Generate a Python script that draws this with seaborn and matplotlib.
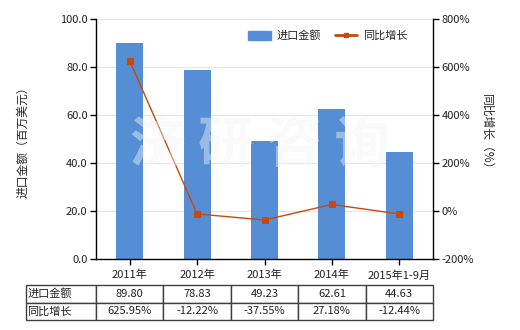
import matplotlib
matplotlib.use("Agg")
import matplotlib.pyplot as plt
import seaborn as sns
import numpy as np
import pandas as pd
from matplotlib.patches import Patch
from matplotlib.lines import Line2D

categories = ["2011年", "2012年", "2013年", "2014年", "2015年1-9月"]
import_values = [89.80, 78.83, 49.23, 62.61, 44.63]
yoy_growth = [625.95, -12.22, -37.55, 27.18, -12.44]
left_ticks = [0, 20, 40, 60, 80, 100]
right_ticks = [-200, 0, 200, 400, 600, 800]
row_labels = ["进口金额", "同比增长"]

sns.set_theme(style="white")
plt.rcParams['font.family'] = ['Noto Sans CJK SC', 'DejaVu Sans']
plt.rcParams['axes.unicode_minus'] = False

bar_color = "#558ed5"
line_color = "#c9490c"
fs = 8

fig = plt.figure(figsize=(5.2, 3.3), dpi=100)
ax = fig.add_axes([96/520, 1-259/330, 337/520, 240/330])

df = pd.DataFrame({"cat": categories, "val": import_values})
sns.barplot(data=df, x="cat", y="val", color=bar_color, width=0.4, ax=ax,
            saturation=1, linewidth=0, zorder=2)
ax.set_xlim(-0.5, len(categories)-0.5)
ax.set_ylim(0, 100)
ax.set_yticks(left_ticks)
ax.set_yticklabels([f"{v:.1f}" for v in left_ticks], fontsize=fs)
ax.set_xticks(range(len(categories)))
ax.set_xticklabels(categories, fontsize=fs)
ax.set_xlabel("")
ax.set_ylabel("进口金额（百万美元）", fontsize=fs+0.5)
ax.yaxis.set_label_coords(-(96-29)/337, 0.5)
ax.grid(axis="y", color="#e8e6dc", linewidth=0.8, zorder=0)
ax.set_axisbelow(True)
for s in ["top", "right"]:
    ax.spines[s].set_visible(False)
for s in ["left", "bottom"]:
    ax.spines[s].set_color("black")
    ax.spines[s].set_linewidth(1)
ax.tick_params(axis="both", direction="out", length=4, width=1, color="black",
               left=True, bottom=True, pad=2, labelcolor="#222222")
ax.tick_params(axis="x", pad=4)

ax2 = ax.twinx()
ldf = pd.DataFrame({"x": np.arange(len(categories)), "y": yoy_growth})
sns.lineplot(data=ldf, x="x", y="y", color=line_color, marker="s", markersize=5,
             markeredgecolor=line_color, linewidth=1, ax=ax2, zorder=3)
ax2.set_ylim(-200, 800)
ax2.set_yticks(right_ticks)
ax2.set_yticklabels([f"{v}%" for v in right_ticks], fontsize=fs)
ax2.set_ylabel("同比增长（%）", fontsize=fs+0.5, rotation=270, va="center")
ax2.yaxis.set_label_coords((487-96)/337, 0.52)
ax2.set_xlim(-0.5, len(categories)-0.5)
for s in ["top", "left", "bottom"]:
    ax2.spines[s].set_visible(False)
ax2.spines["right"].set_color("black")
ax2.spines["right"].set_linewidth(1)
ax2.tick_params(axis="y", direction="out", length=4, width=1, color="black",
                right=True, pad=2, labelcolor="#222222")
ax2.set_xlabel("")

# watermark
fig.text(0.5, 0.56, "济 研 咨 询", fontsize=40, color="#f4f4f4", alpha=0.45,
         ha="center", va="center", fontweight="bold", zorder=10)

# legend
handles = [Patch(facecolor=bar_color, edgecolor=bar_color),
           Line2D([0], [0], color=line_color, marker="s", markersize=3, linewidth=2)]
ax2.legend(handles, row_labels, loc="upper left",
           bbox_to_anchor=((244-96)/337, (259-26)/240),
           ncol=2, frameon=False, fontsize=fs, handlelength=2.0, handleheight=0.9,
           columnspacing=1.3, handletextpad=0.5, borderaxespad=0)

# table
cell_text = [[f"{v:.2f}" for v in import_values],
             [f"{v:.2f}%" for v in yoy_growth]]
full = [[row_labels[i]] + cell_text[i] for i in range(2)]
colw = [70/407] + [67.4/407]*len(categories)
tbl = ax.table(cellText=full, colWidths=colw, cellLoc="center",
               bbox=[-70/337, -(320-259)/240, 407/337, 35/240])
tbl.auto_set_font_size(False)
tbl.set_fontsize(fs)
for (r, c), cell in tbl.get_celld().items():
    cell.set_edgecolor("#404040")
    cell.set_linewidth(1)
    cell.get_text().set_color("#222222")
    if c == 0:
        cell._loc = "left"
        cell.get_text().set_ha("left")
        cell.PAD = 0.02

fig.savefig("out.png", dpi=100)
